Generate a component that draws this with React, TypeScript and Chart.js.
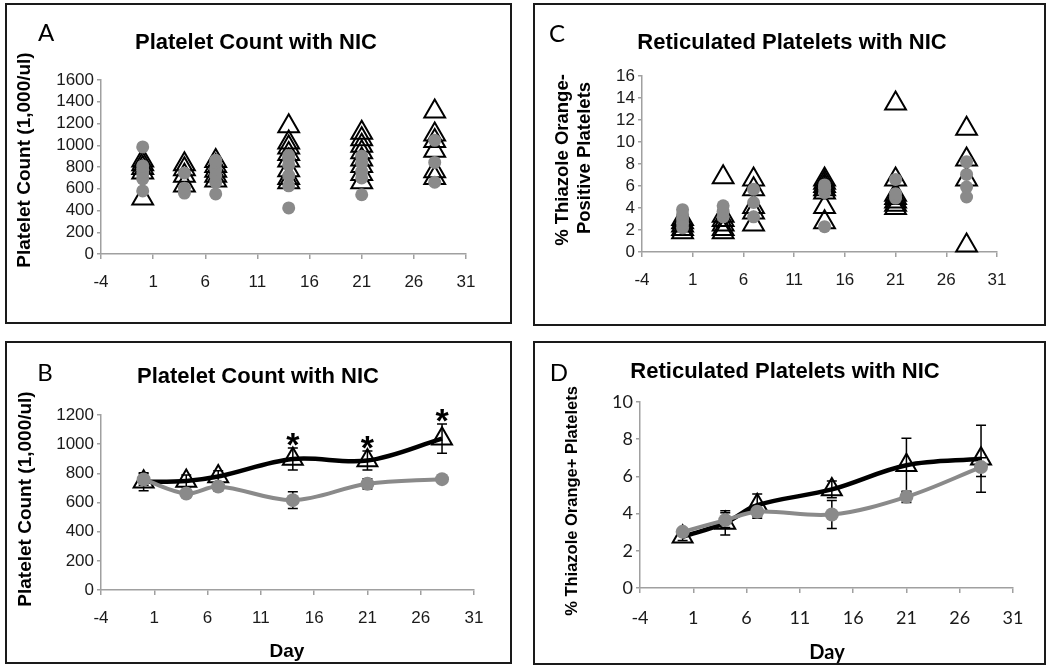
import React, { useEffect, useRef } from "react";
import { Chart, registerables } from "chart.js";

Chart.register(...registerables);

// ---------------- DATA ----------------
const days = [0, 4, 7, 14, 21, 28];
const xTickValues = [-4, 1, 6, 11, 16, 21, 26, 31];
const aYTicks = [0, 200, 400, 600, 800, 1000, 1200, 1400, 1600];
const bYTicks = [0, 200, 400, 600, 800, 1000, 1200];
const cYTicks = [0, 2, 4, 6, 8, 10, 12, 14, 16];
const dYTicks = [0, 2, 4, 6, 8, 10];

// Panel A – individual platelet counts (1,000/ul) per day
const aTriangleValues: number[][] = [
  [510, 750, 790, 825, 860],
  [630, 720, 780, 825],
  [675, 720, 765, 810, 855],
  [660, 700, 770, 860, 920, 980, 1025, 1175],
  [660, 735, 810, 870, 935, 995, 1055, 1115],
  [700, 760, 950, 1040, 1100, 1310],
];
const aCircleValues: number[][] = [
  [580, 690, 730, 770, 810, 985],
  [560, 605, 745],
  [552, 660, 720, 780, 840, 862],
  [424, 627, 720, 820, 880, 905],
  [545, 700, 760, 840, 900],
  [660, 842, 1045],
];

// Panel B – mean platelet counts with error
const bTriangleMeans = [742, 748, 778, 898, 888, 1038];
const bTriangleErrors = [62, 40, 40, 75, 65, 100];
const bCircleMeans = [758, 662, 710, 616, 728, 760];
const bCircleErrors = [40, 25, 30, 57, 35, 25];
const bSignificantDays = [14, 21, 28];

// Panel C – individual % thiazole orange-positive platelets per day
const cTriangleValues: number[][] = [
  [1.8, 2.1, 2.4, 2.7, 3.0],
  [1.8, 2.1, 2.5, 2.9, 3.3, 6.8],
  [2.5, 3.6, 4.1, 5.7, 6.6],
  [2.7, 4.1, 5.4, 5.7, 6.0, 6.3, 6.6],
  [4.0, 4.3, 4.6, 4.9, 5.2, 6.6, 13.5],
  [0.6, 6.6, 8.4, 11.2],
];
const cCircleValues: number[][] = [
  [2.2, 2.6, 3.0, 3.4, 3.85],
  [3.2, 3.7, 4.2],
  [3.2, 4.5, 5.7],
  [2.3, 5.4, 5.8, 6.1],
  [4.9, 5.3, 6.6],
  [5.0, 5.9, 7.05, 8.2],
];

// Panel D – mean % thiazole orange+ platelets with error
const dTriangleMeans = [2.75, 3.5, 4.45, 5.3, 6.6, 6.95];
const dTriangleErrors = [0.2, 0.65, 0.6, 0.45, 1.45, 1.8];
const dCircleMeans = [3.02, 3.65, 4.1, 3.95, 4.9, 6.5];
const dCircleErrors = [0.15, 0.4, 0.35, 0.75, 0.3, 0.5];

// ---------------- STYLE ----------------
const GRAY = "#8a8a8a";
const AXIS = "#a0a0a0";
const TEXT = "#1a1a1a";
const ARIAL = '"Liberation Sans", Arial, sans-serif';
const CAL = 'Lato, "Open Sans", sans-serif';

type TextItem = { text: string; x: number; y: number; font: string; rotate?: boolean };
type PanelDef = {
  key: string;
  box: { left: number; top: number; width: number; height: number };
  plot: { l: number; r: number; t: number; b: number };
  type: "scatter" | "line";
  datasets: any[];
  yTicks: number[];
  tickFont: { family: string; size: number };
  xPad: number;
  texts: TextItem[];
  significant?: number[];
};

const scatterPoints = (vals: number[][]) =>
  days.flatMap((d, i) => vals[i].map((v) => ({ x: d, y: v })));
const linePoints = (means: number[]) => days.map((d, i) => ({ x: d, y: means[i] }));

const triangleScatter = (vals: number[][]) => ({
  data: scatterPoints(vals),
  pointStyle: "triangle",
  pointRadius: 12,
  pointBorderColor: "#000",
  pointBorderWidth: 2,
  pointBackgroundColor: "rgba(255,255,255,0)",
  showLine: false,
  clip: false,
});
const circleScatter = (vals: number[][]) => ({
  data: scatterPoints(vals),
  pointStyle: "circle",
  pointRadius: 6.5,
  pointBorderWidth: 0,
  pointBackgroundColor: GRAY,
  pointBorderColor: GRAY,
  showLine: false,
  clip: false,
});
const triangleLine = (means: number[], errors: number[]) => ({
  data: linePoints(means),
  means,
  errors,
  borderColor: "#000",
  borderWidth: 4.5,
  tension: 0.35,
  pointStyle: "triangle",
  pointRadius: 11.5,
  pointBorderColor: "#000",
  pointBorderWidth: 2,
  pointBackgroundColor: "rgba(255,255,255,0)",
  clip: false,
  isTriangleSeries: true,
});
const circleLine = (means: number[], errors: number[]) => ({
  data: linePoints(means),
  means,
  errors,
  borderColor: GRAY,
  borderWidth: 4,
  tension: 0.35,
  pointStyle: "circle",
  pointRadius: 7,
  pointBorderWidth: 0,
  pointBackgroundColor: GRAY,
  pointBorderColor: GRAY,
  clip: false,
});

const panels: PanelDef[] = [
  {
    key: "A",
    box: { left: 5, top: 3, width: 507, height: 321 },
    plot: { l: 101, r: 466, t: 80, b: 254 },
    type: "scatter",
    datasets: [circleScatter(aCircleValues), triangleScatter(aTriangleValues)],
    yTicks: aYTicks,
    tickFont: { family: ARIAL, size: 17 },
    xPad: 13,
    texts: [
      { text: "A", x: 46, y: 33, font: `24px ${CAL}` },
      { text: "Platelet Count with NIC", x: 256, y: 43, font: `bold 22px ${ARIAL}` },
      { text: "Platelet Count (1,000/ul)", x: 25, y: 160, font: `bold 19px ${ARIAL}`, rotate: true },
    ],
  },
  {
    key: "B",
    box: { left: 5, top: 341, width: 507, height: 323 },
    plot: { l: 101, r: 474, t: 415, b: 590 },
    type: "line",
    datasets: [circleLine(bCircleMeans, bCircleErrors), triangleLine(bTriangleMeans, bTriangleErrors)],
    yTicks: bYTicks,
    tickFont: { family: ARIAL, size: 17 },
    xPad: 13,
    significant: bSignificantDays,
    texts: [
      { text: "B", x: 45, y: 373, font: `24px ${CAL}` },
      { text: "Platelet Count with NIC", x: 258, y: 377, font: `bold 22px ${ARIAL}` },
      { text: "Platelet Count (1,000/ul)", x: 26, y: 499, font: `bold 19px ${ARIAL}`, rotate: true },
      { text: "Day", x: 287, y: 652, font: `bold 19px ${ARIAL}` },
    ],
  },
  {
    key: "C",
    box: { left: 533, top: 3, width: 513, height: 323 },
    plot: { l: 642, r: 997, t: 76, b: 252 },
    type: "scatter",
    datasets: [circleScatter(cCircleValues), triangleScatter(cTriangleValues)],
    yTicks: cYTicks,
    tickFont: { family: ARIAL, size: 17 },
    xPad: 13,
    texts: [
      { text: "C", x: 557, y: 34, font: `24px ${CAL}` },
      { text: "Reticulated Platelets with NIC", x: 792, y: 43, font: `bold 22px ${ARIAL}` },
      { text: "% Thiazole Orange-", x: 563, y: 160, font: `bold 18.5px ${ARIAL}`, rotate: true },
      { text: "Positive Platelets", x: 585, y: 158, font: `bold 18.5px ${ARIAL}`, rotate: true },
    ],
  },
  {
    key: "D",
    box: { left: 533, top: 341, width: 513, height: 324 },
    plot: { l: 640, r: 1013, t: 402, b: 588 },
    type: "line",
    datasets: [circleLine(dCircleMeans, dCircleErrors), triangleLine(dTriangleMeans, dTriangleErrors)],
    yTicks: dYTicks,
    tickFont: { family: CAL, size: 18 },
    xPad: 14,
    texts: [
      { text: "D", x: 559, y: 373, font: `24px ${CAL}` },
      { text: "Reticulated Platelets with NIC", x: 785, y: 372, font: `bold 22px ${ARIAL}` },
      { text: "% Thiazole Orange+ Platelets", x: 572, y: 501, font: `bold 16.5px ${ARIAL}`, rotate: true },
      { text: "Day", x: 827, y: 653, font: `bold 20px ${CAL}` },
    ],
  },
];

// ---------------- PLUGINS ----------------
const makeDecorPlugin = (p: PanelDef) => ({
  id: "panelDecor" + p.key,
  afterDraw(chart: any) {
    const ctx = chart.ctx as CanvasRenderingContext2D;
    ctx.save();
    ctx.strokeStyle = "#1a1a1a";
    ctx.lineWidth = 2;
    ctx.strokeRect(1, 1, chart.width - 2, chart.height - 2);
    for (const t of p.texts) {
      ctx.save();
      ctx.font = t.font;
      ctx.fillStyle = "#000";
      ctx.textAlign = "center";
      ctx.textBaseline = "middle";
      ctx.translate(t.x - p.box.left, t.y - p.box.top);
      if (t.rotate) ctx.rotate(-Math.PI / 2);
      ctx.fillText(t.text, 0, 0);
      ctx.restore();
    }
    ctx.restore();
  },
});

const makeErrorPlugin = (p: PanelDef) => ({
  id: "errorBars" + p.key,
  beforeDatasetDraw(chart: any, args: any) {
    const ds = chart.data.datasets[args.index] as any;
    if (!ds.errors) return;
    const ctx = chart.ctx as CanvasRenderingContext2D;
    const y = chart.scales.y;
    ctx.save();
    ctx.strokeStyle = "#000";
    ctx.lineWidth = 1.5;
    args.meta.data.forEach((el: any, i: number) => {
      const m = ds.means[i];
      const e = ds.errors[i];
      const top = y.getPixelForValue(m + e);
      const bot = y.getPixelForValue(m - e);
      ctx.beginPath();
      ctx.moveTo(el.x, top);
      ctx.lineTo(el.x, bot);
      ctx.moveTo(el.x - 5, top);
      ctx.lineTo(el.x + 5, top);
      ctx.moveTo(el.x - 5, bot);
      ctx.lineTo(el.x + 5, bot);
      ctx.stroke();
    });
    ctx.restore();
  },
  afterDatasetsDraw(chart: any) {
    if (!p.significant) return;
    const ctx = chart.ctx as CanvasRenderingContext2D;
    const y = chart.scales.y;
    chart.data.datasets.forEach((ds: any, di: number) => {
      if (!ds.isTriangleSeries) return;
      const meta = chart.getDatasetMeta(di);
      ctx.save();
      ctx.fillStyle = "#000";
      ctx.font = `bold 34px ${ARIAL}`;
      ctx.textAlign = "center";
      ctx.textBaseline = "alphabetic";
      days.forEach((d, i) => {
        if (!p.significant!.includes(d)) return;
        const el = meta.data[i];
        const top = y.getPixelForValue(ds.means[i] + ds.errors[i]);
        ctx.fillText("*", el.x, top + 8);
      });
      ctx.restore();
    });
  },
});

// ---------------- CHART ----------------
const Y_W = 64;
const X_H = 42;

function buildConfig(p: PanelDef): any {
  const L = p.plot.l - p.box.left;
  const R = p.plot.r - p.box.left;
  const T = p.plot.t - p.box.top;
  const B = p.plot.b - p.box.top;
  const tickFont = { family: p.tickFont.family, size: p.tickFont.size };
  const yMax = p.yTicks[p.yTicks.length - 1];
  return {
    type: p.type,
    data: { datasets: p.datasets },
    plugins: [makeErrorPlugin(p), makeDecorPlugin(p)],
    options: {
      responsive: false,
      animation: false,
      events: [],
      layout: {
        padding: {
          left: L - Y_W,
          right: p.box.width - R,
          top: T,
          bottom: p.box.height - B - X_H,
        },
      },
      plugins: {
        legend: { display: false },
        tooltip: { enabled: false },
        title: { display: false },
      },
      scales: {
        x: {
          type: "linear",
          min: -4,
          max: 31,
          afterBuildTicks: (s: any) => {
            s.ticks = xTickValues.map((v) => ({ value: v }));
          },
          afterFit: (s: any) => {
            s.height = X_H;
          },
          ticks: {
            font: tickFont,
            color: TEXT,
            padding: p.xPad,
            autoSkip: false,
            maxRotation: 0,
            callback: (v: number) => String(v),
          },
          grid: {
            drawOnChartArea: false,
            drawTicks: true,
            tickLength: 5,
            color: AXIS,
            lineWidth: 1.5,
          },
          border: { display: true, color: AXIS, width: 1.5 },
        },
        y: {
          type: "linear",
          min: 0,
          max: yMax,
          afterBuildTicks: (s: any) => {
            s.ticks = p.yTicks.map((v) => ({ value: v }));
          },
          afterFit: (s: any) => {
            s.width = Y_W;
          },
          ticks: {
            font: tickFont,
            color: TEXT,
            padding: 3,
            autoSkip: false,
            callback: (v: number) => String(v),
          },
          grid: {
            drawOnChartArea: false,
            drawTicks: true,
            tickLength: 4,
            color: AXIS,
            lineWidth: 1.5,
          },
          border: { display: true, color: AXIS, width: 1.5 },
        },
      },
    },
  };
}

function PanelChart({ p }: { p: PanelDef }) {
  const ref = useRef<HTMLCanvasElement | null>(null);
  useEffect(() => {
    if (!ref.current) return;
    const chart = new Chart(ref.current, buildConfig(p));
    return () => chart.destroy();
  }, [p]);
  return (
    <canvas
      ref={ref}
      width={p.box.width}
      height={p.box.height}
      style={{
        position: "absolute",
        left: p.box.left,
        top: p.box.top,
        width: p.box.width,
        height: p.box.height,
      }}
    />
  );
}

export default function App() {
  return (
    <div
      style={{
        position: "absolute",
        left: 0,
        top: 0,
        width: 1050,
        height: 670,
        background: "#ffffff",
        overflow: "hidden",
      }}
    >
      {panels.map((p) => (
        <PanelChart key={p.key} p={p} />
      ))}
    </div>
  );
}
